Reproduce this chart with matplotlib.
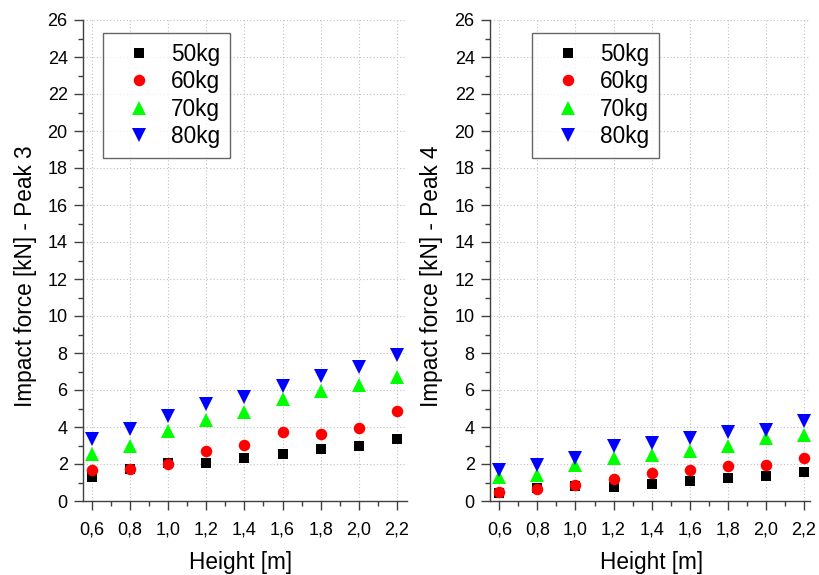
import matplotlib
matplotlib.use("Agg")
import matplotlib.pyplot as plt
from matplotlib.ticker import MultipleLocator, FuncFormatter

plt.rcParams['font.family'] = ['Liberation Sans', 'DejaVu Sans']

heights = [0.6, 0.8, 1.0, 1.2, 1.4, 1.6, 1.8, 2.0, 2.2]
labels = ["50kg", "60kg", "70kg", "80kg"]

peak3_50 = [1.32, 1.75, 2.08, 2.08, 2.33, 2.55, 2.82, 3.00, 3.36]
peak3_60 = [1.68, 1.74, 2.00, 2.68, 3.04, 3.71, 3.62, 3.94, 4.88]
peak3_70 = [2.53, 2.95, 3.76, 4.36, 4.83, 5.52, 5.93, 6.29, 6.69]
peak3_80 = [3.35, 3.89, 4.58, 5.24, 5.61, 6.20, 6.78, 7.25, 7.88]

peak4_50 = [0.45, 0.69, 0.81, 0.78, 0.94, 1.08, 1.27, 1.36, 1.59]
peak4_60 = [0.49, 0.67, 0.87, 1.21, 1.54, 1.70, 1.88, 1.92, 2.31]
peak4_70 = [1.32, 1.41, 1.95, 2.31, 2.50, 2.68, 2.95, 3.40, 3.58]
peak4_80 = [1.68, 1.95, 2.35, 2.95, 3.13, 3.40, 3.71, 3.82, 4.34]

styles = [("s", "black", 7.2), ("o", "red", 8.3), ("^", "#00ff00", 9.5), ("v", "blue", 9.5)]

fig = plt.figure(figsize=(8.19, 5.75), dpi=100)
ax1 = fig.add_axes([83 / 819, 74 / 575, 324 / 819, 481 / 575])
ax2 = fig.add_axes([490 / 819, 74 / 575, 320 / 819, 481 / 575])

def comma(v, pos):
    return ("%.1f" % v).replace(".", ",")

configs = [
    (ax1, [peak3_50, peak3_60, peak3_70, peak3_80], "Impact force [kN] - Peak 3",
     (0.0608, 0.974), (0.553, 2.253), (0.486, -0.104), (-0.1435, 0.468)),
    (ax2, [peak4_50, peak4_60, peak4_70, peak4_80], "Impact force [kN] - Peak 4",
     (0.132, 0.974), (0.551, 2.232), (0.506, -0.104), (-0.147, 0.468)),
]

for ax, series, ylab, leg_anchor, xlim, xlc, ylc in configs:
    for vals, lab, (m, c, ms) in zip(series, labels, styles):
        ax.plot(heights, vals, linestyle="none", marker=m, color=c, markersize=ms,
                markeredgewidth=0, label=lab)
    ax.set_xlim(*xlim)
    ax.set_ylim(0, 26)
    ax.xaxis.set_minor_locator(MultipleLocator(0.1))
    ax.yaxis.set_major_locator(MultipleLocator(2))
    ax.yaxis.set_minor_locator(MultipleLocator(1))
    ax.set_xticks(heights)
    ax.xaxis.set_major_formatter(FuncFormatter(comma))
    ax.grid(True, which="major", linestyle=(0, (1, 2)), color="#c0c0c0", linewidth=0.8)
    ax.set_axisbelow(True)
    for s in ["top", "right"]:
        ax.spines[s].set_visible(False)
    for s in ["left", "bottom"]:
        ax.spines[s].set_color("#404040")
        ax.spines[s].set_linewidth(1.0)
    ax.tick_params(which="major", direction="out", length=6.5, width=1, color="#404040",
                   labelsize=13, pad=4.5)
    ax.tick_params(axis="x", which="major", pad=8)
    ax.tick_params(which="minor", direction="out", length=3.5, width=1, color="#404040")
    ax.set_xlabel("Height [m]", fontsize=16.3)
    ax.set_ylabel(ylab, fontsize=16.3)
    ax.xaxis.set_label_coords(*xlc)
    ax.yaxis.set_label_coords(*ylc)
    leg = ax.legend(loc="upper left", bbox_to_anchor=leg_anchor, borderaxespad=0,
                    fontsize=16.3, frameon=True, fancybox=False, edgecolor="#404040",
                    handletextpad=0.28, borderpad=0.45, labelspacing=0.2,
                    handlelength=2.27, markerscale=1.0)
    leg.get_frame().set_linewidth(1.0)

fig.savefig("out.png", dpi=100)
